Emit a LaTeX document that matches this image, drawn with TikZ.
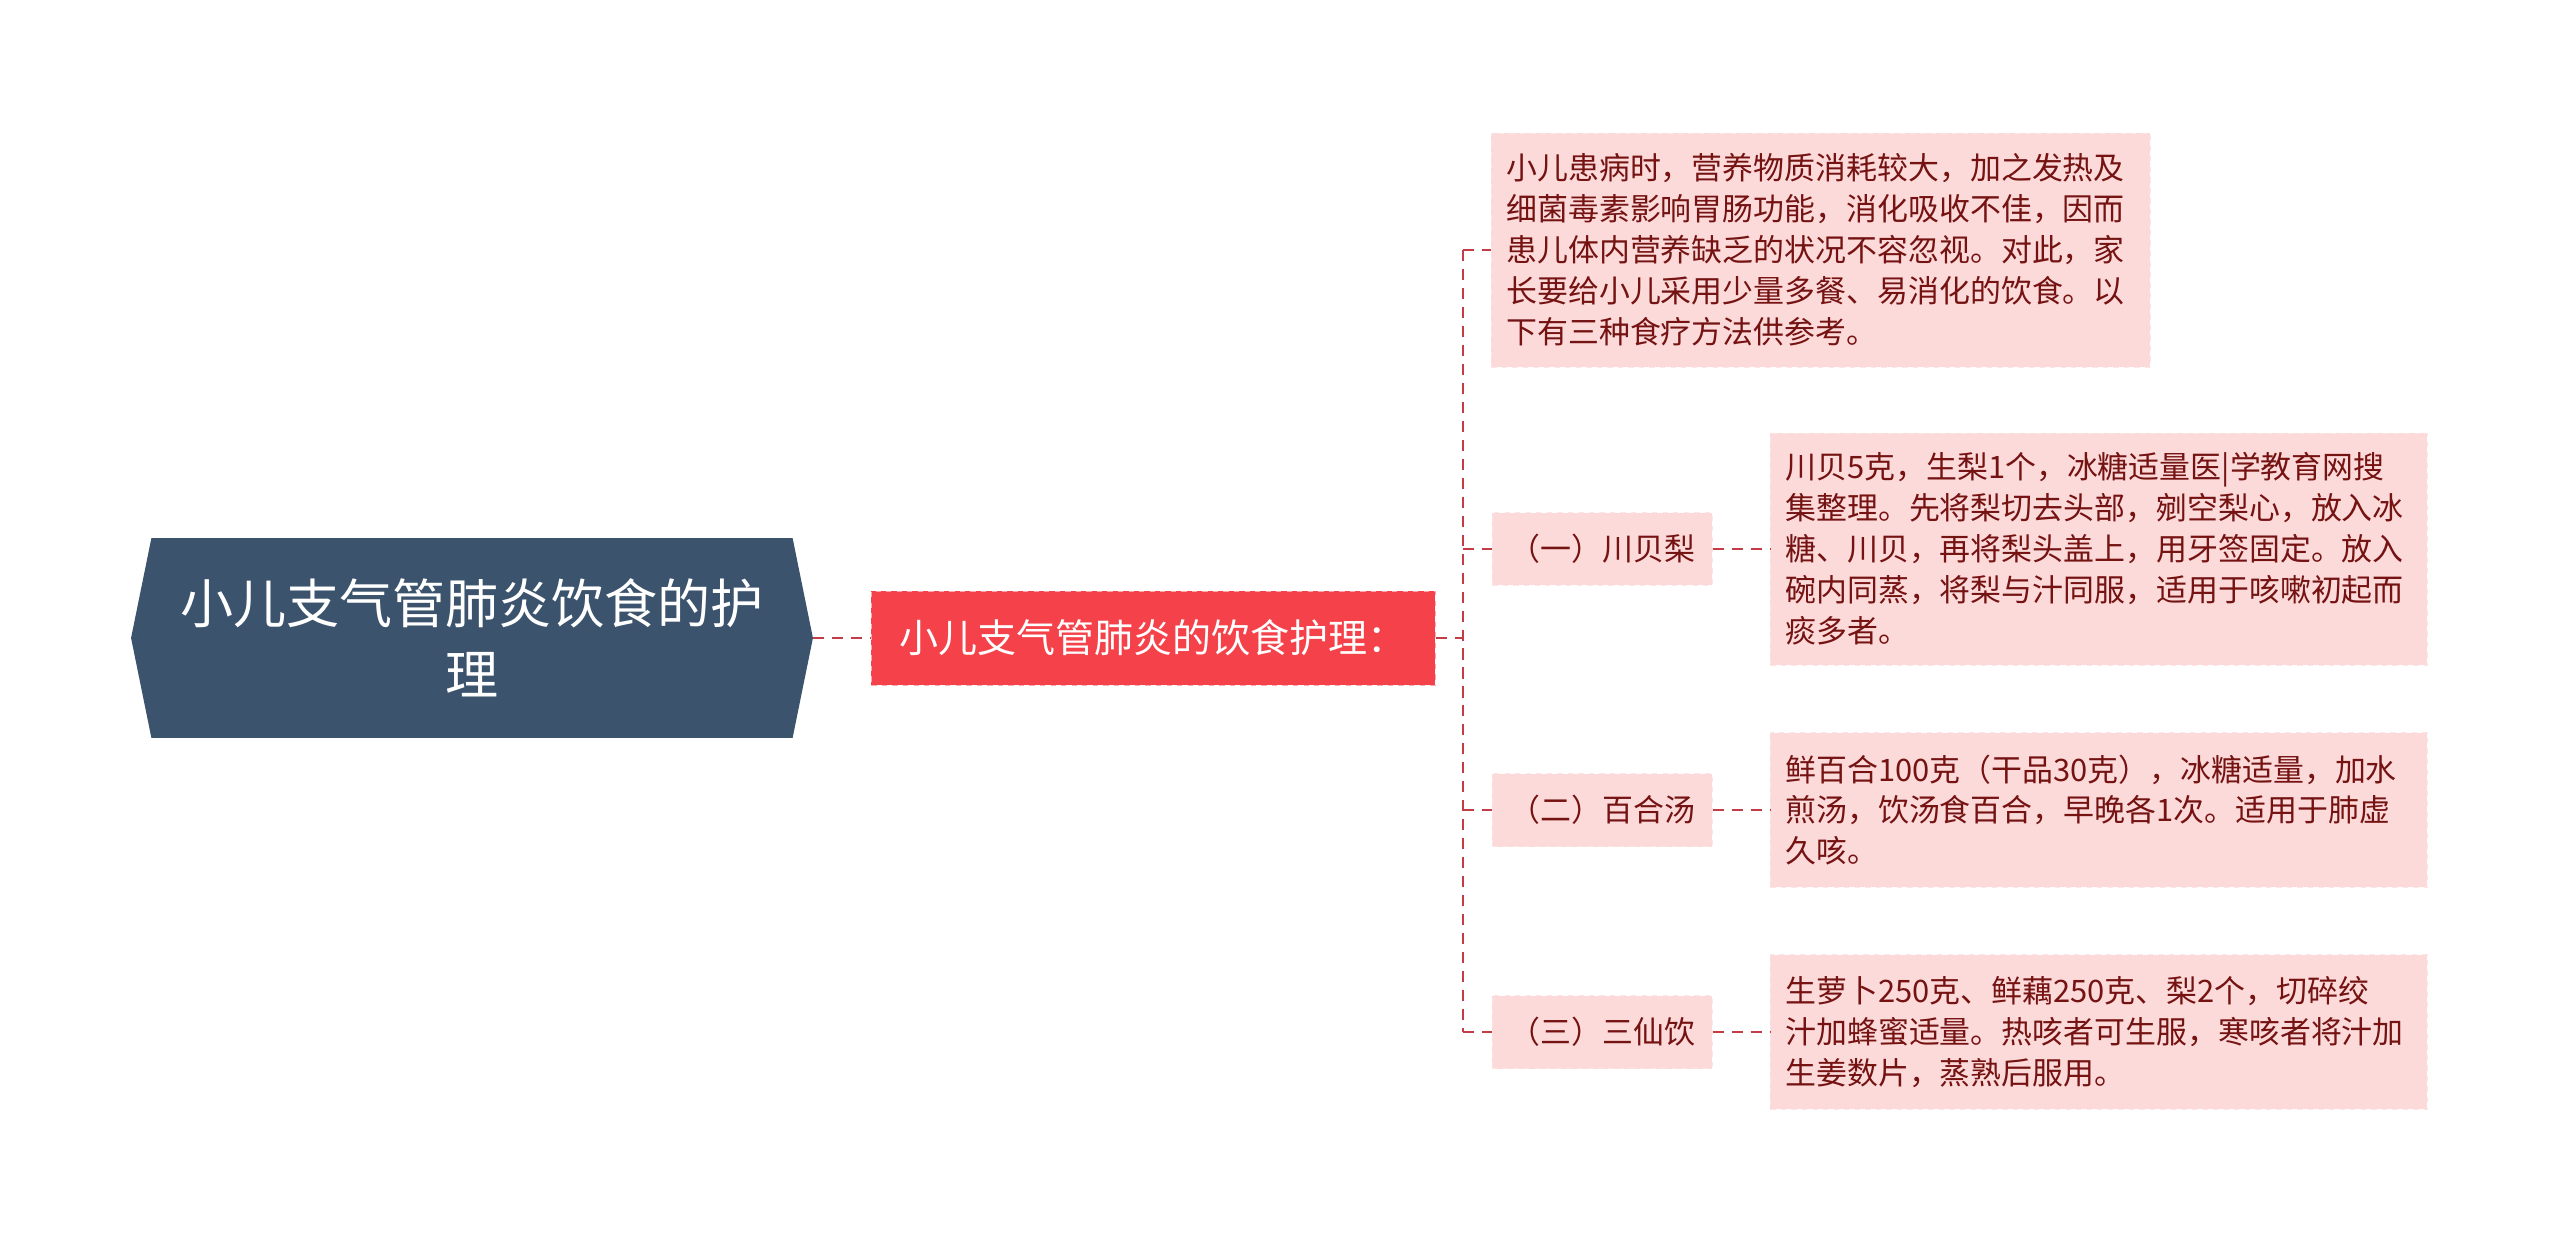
\documentclass[tikz,border=0pt]{standalone}
\usepackage{fontspec}
\newfontfamily\cjk{Noto Sans CJK SC}
\usetikzlibrary{shapes.symbols}
\definecolor{rootblue}{HTML}{3B536C}
\definecolor{topicred}{HTML}{F5424A}
\definecolor{leafpink}{HTML}{FCDADA}
\definecolor{leaftext}{HTML}{751212}
\definecolor{linkred}{HTML}{C43C46}
\tikzset{
  link/.style={draw=linkred, line width=1.2pt, dash pattern=on 6.3pt off 4.5pt},
  rootnode/.style={signal, signal to=west and east, signal pointer angle=157,
    fill=rootblue, text=white, minimum width=13.64cm, minimum height=4cm,
    inner sep=0pt, align=center, font=\cjk\fontsize{30.2pt}{40.4pt}\selectfont},
  topicnode/.style={fill=topicred, draw=topicred!45!white, dashed, text=white,
    minimum width=11.28cm, minimum height=1.88cm, inner sep=0pt, anchor=west,
    font=\cjk\fontsize{22.2pt}{28pt}\selectfont},
  pinkbox/.style={fill=leafpink, draw=leafpink!70!white, dashed, text=leaftext,
    anchor=west, font=\cjk\fontsize{17.6pt}{23.3pt}\selectfont},
  labelnode/.style={pinkbox, minimum width=4.4cm, minimum height=1.46cm, inner sep=0pt},
  leafnode/.style={pinkbox, align=left, inner xsep=0.3cm, inner ysep=0pt,
    text width=12.54cm, minimum height=#1},
}
\begin{document}
\begin{tikzpicture}[x=0.02cm, y=-0.02cm]
  \useasboundingbox (0,0) rectangle (2560,1237);
  \node[rootnode] (root) at (472,638) {小儿支气管肺炎饮食的护\\理};
  \node[topicnode] (topic) at (871,638) {小儿支气管肺炎的饮食护理：};
  \node[leafnode=4.68cm, text width=12.58cm] (intro) at (1491,250)
    {小儿患病时，营养物质消耗较大，加之发热及\\细菌毒素影响胃肠功能，消化吸收不佳，因而\\患儿体内营养缺乏的状况不容忽视。对此，家\\长要给小儿采用少量多餐、易消化的饮食。以\\下有三种食疗方法供参考。};
  \node[labelnode] (lab1) at (1492,549) {（一）川贝梨};
  \node[labelnode] (lab2) at (1492,810) {（二）百合汤};
  \node[labelnode] (lab3) at (1492,1032) {（三）三仙饮};
  \node[leafnode=4.64cm] (det1) at (1770,549)
    {川贝5克，生梨1个，冰糖适量医|学教育网搜\\集整理。先将梨切去头部，剜空梨心，放入冰\\糖、川贝，再将梨头盖上，用牙签固定。放入\\碗内同蒸，将梨与汁同服，适用于咳嗽初起而\\痰多者。};
  \node[leafnode=3.1cm] (det2) at (1770,810)
    {鲜百合100克（干品30克），冰糖适量，加水\\煎汤，饮汤食百合，早晚各1次。适用于肺虚\\久咳。};
  \node[leafnode=3.1cm] (det3) at (1770,1032)
    {生萝卜250克、鲜藕250克、梨2个，切碎绞\\汁加蜂蜜适量。热咳者可生服，寒咳者将汁加\\生姜数片，蒸熟后服用。};
  \coordinate (trunk) at (1463,250);
  \draw[link] (root.east) -- (topic.west);
  \draw[link] (topic.east) -- (topic.east -| trunk);
  \draw[link] (trunk |- intro.west) -- (trunk |- lab3.west);
  \foreach \n in {intro,lab1,lab2,lab3}
    \draw[link] (trunk |- \n.west) -- (\n.west);
  \foreach \i in {1,2,3}
    \draw[link] (lab\i.east) -- (det\i.west);
\end{tikzpicture}
\end{document}
